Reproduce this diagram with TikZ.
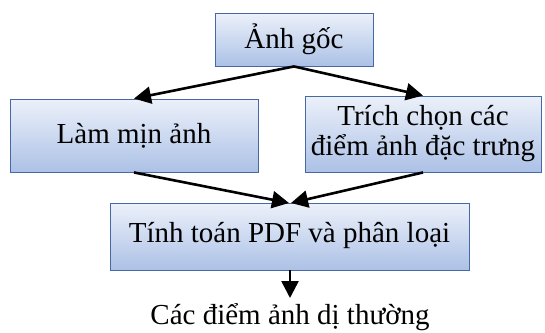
\documentclass[tikz,border=0pt]{standalone}
\usepackage{fontspec}
\setmainfont{Liberation Serif}
\usetikzlibrary{arrows.meta}
\definecolor{boxtop}{RGB}{236,241,250}
\definecolor{boxbot}{RGB}{172,193,230}
\definecolor{boxline}{RGB}{70,105,165}
\tikzset{
  x=1pt,y=-1pt,
  procbox/.style={draw=boxline,line width=0.9pt,top color=boxtop,bottom color=boxbot,
    inner sep=0pt,align=center,font=\fontsize{29}{30}\selectfont},
  flow/.style={line width=2.6pt,-{Triangle[length=17pt,width=17pt]}}
}
\begin{document}
\begin{tikzpicture}
\useasboundingbox (0,0) rectangle (545,332);
\node[procbox,minimum width=158pt,minimum height=53pt] (goc) at (294,39.5) {Ảnh gốc};
\node[procbox,minimum width=248pt,minimum height=73pt] (min) at (134,135.5) {\raisebox{2pt}{Làm mịn ảnh}};
\node[procbox,minimum width=236pt,minimum height=76pt] (tc) at (423,134) {Trích chọn các\\điểm ảnh đặc trưng};
\node[procbox,minimum width=359pt,minimum height=67pt] (pdf) at (289.5,236.5) {\raisebox{9pt}{Tính toán PDF và phân loại}};
\node[font=\fontsize{29}{30}\selectfont,inner sep=0pt] (out) at (290,317) {Các điểm ảnh dị thường};
\coordinate (lt) at (289,203);
\coordinate (rt) at (291,203);
\coordinate (ot) at (290,298);
\draw[flow] (goc.south) -- (min.north);
\draw[flow] (goc.south) -- (tc.north);
\draw[flow] (min.south) -- (lt);
\draw[flow] (tc.south) -- (rt);
\draw[flow] (pdf.south -| ot) -- (ot);
\end{tikzpicture}
\end{document}
